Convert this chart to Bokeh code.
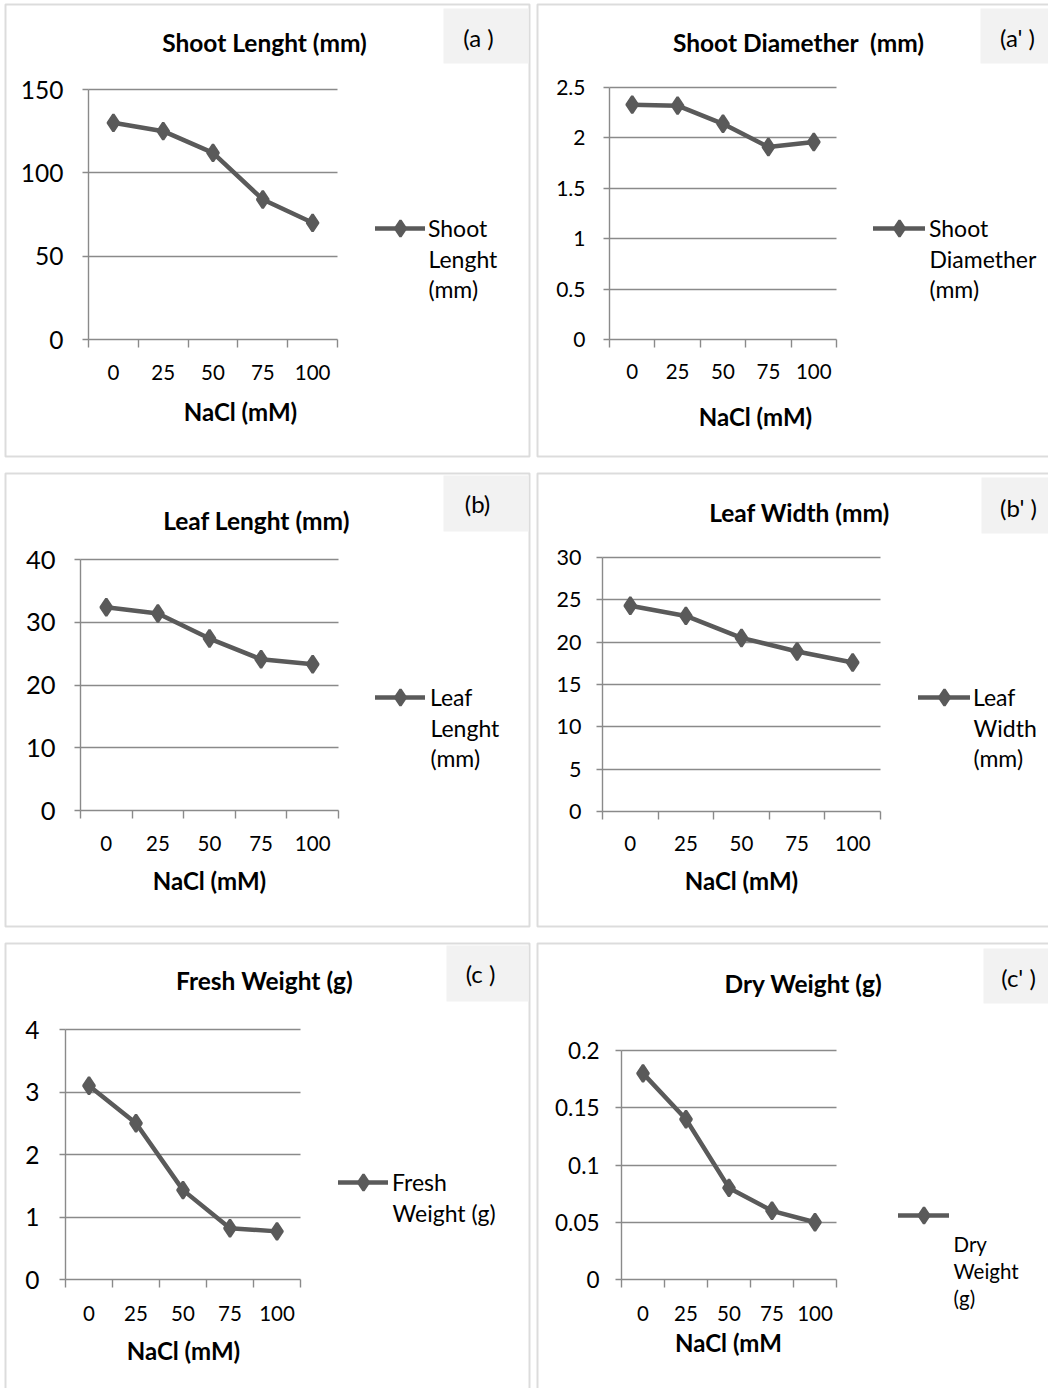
from bokeh.plotting import figure
from bokeh.models import (LinearAxis, FixedTicker, Range1d, Label, BoxAnnotation,
                          Legend, LegendItem, Grid)
from bokeh.layouts import column, row
from bokeh.embed import file_html
from bokeh.resources import INLINE

# ---------------- data ----------------
nacl_levels = ["0", "25", "50", "75", "100"]

shoot_length_mm = [130, 125, 112, 84, 70]
shoot_diameter_mm = [2.33, 2.32, 2.14, 1.91, 1.96]
leaf_length_mm = [32.4, 31.4, 27.4, 24.1, 23.3]
leaf_width_mm = [24.3, 23.1, 20.5, 18.9, 17.6]
fresh_weight_g = [3.1, 2.5, 1.43, 0.82, 0.77]
dry_weight_g = [0.18, 0.14, 0.08, 0.06, 0.05]

yticks_shoot_length = [0, 50, 100, 150]
ylabels_shoot_length = ["0", "50", "100", "150"]
yticks_shoot_diameter = [0, 0.5, 1, 1.5, 2, 2.5]
ylabels_shoot_diameter = ["0", "0.5", "1", "1.5", "2", "2.5"]
yticks_leaf_length = [0, 10, 20, 30, 40]
ylabels_leaf_length = ["0", "10", "20", "30", "40"]
yticks_leaf_width = [0, 5, 10, 15, 20, 25, 30]
ylabels_leaf_width = ["0", "5", "10", "15", "20", "25", "30"]
yticks_fresh_weight = [0, 1, 2, 3, 4]
ylabels_fresh_weight = ["0", "1", "2", "3", "4"]
yticks_dry_weight = [0, 0.05, 0.1, 0.15, 0.2]
ylabels_dry_weight = ["0", "0.05", "0.1", "0.15", "0.2"]

titles = ["Shoot Lenght (mm)", "Shoot Diamether\u00a0 (mm)", "Leaf Lenght (mm)",
          "Leaf Width (mm)", "Fresh Weight (g)", "Dry Weight (g)"]
panel_tags = ["(a )", "(a' )", "(b)", "(b' )", "(c )", "(c' )"]
legend_texts = [["Shoot", "Lenght", "(mm)"],
                ["Shoot", "Diamether", "(mm)"],
                ["Leaf", "Lenght", "(mm)"],
                ["Leaf", "Width", "(mm)"],
                ["Fresh", "Weight (g)"],
                ["", "Dry", "Weight", "(g)"]]
x_titles = ["NaCl (mM)", "NaCl (mM)", "NaCl (mM)", "NaCl (mM)", "NaCl (mM)", "NaCl (mM"]

# ---------------- layout / style (page pixel geometry) ----------------
FONT = "Lato"
LINE_C = "#5a5a5a"
GRID_C = "#8a8a8a"
BORDER_C = "#8c8c8c"
TAG_FILL = "#f2f2f2"

COL_X = [0, 533]
COL_W = [533, 515]
ROW_Y = [0, 465, 935]
ROW_H = [465, 470, 453]

layout_cfg = [
    dict(L=88, R=337, Ytop=89, Y0=339, border=(5, 4, 529, 456),
         title=(264, 42), tag_box=(443, 8, 528, 63), tag_txt=(478, 37),
         leg=(375, 425, 228), leg_x=428, leg_y=[228, 258, 288], leg_fs=23,
         xlab_c=372, xtitle=(240, 411), ylab_fs=24.5, ylab_so=19),
    dict(L=609, R=836, Ytop=87, Y0=339, border=(537, 4, 1070, 456),
         title=(798, 42), tag_box=(980, 8, 1070, 63), tag_txt=(1017, 37),
         leg=(873, 925, 228), leg_x=929, leg_y=[228, 258, 288], leg_fs=23,
         xlab_c=371, xtitle=(755, 416), ylab_fs=21, ylab_so=18),
    dict(L=80, R=338, Ytop=559, Y0=810, border=(5, 473, 529, 926),
         title=(256, 520), tag_box=(443, 475, 528, 531), tag_txt=(477, 503),
         leg=(375, 425, 697), leg_x=430, leg_y=[697, 727, 757], leg_fs=23,
         xlab_c=843, xtitle=(209, 880), ylab_fs=25.5, ylab_so=19),
    dict(L=602, R=880, Ytop=557, Y0=811, border=(537, 473, 1070, 926),
         title=(799, 512), tag_box=(981, 477, 1070, 533), tag_txt=(1018, 507),
         leg=(918, 970, 697), leg_x=973, leg_y=[697, 727, 757], leg_fs=23,
         xlab_c=843, xtitle=(741, 880), ylab_fs=21.5, ylab_so=15),
    dict(L=65, R=300, Ytop=1029, Y0=1279, border=(5, 943, 529, 1420),
         title=(264, 980), tag_box=(446, 945, 528, 1001), tag_txt=(480, 973),
         leg=(338, 388, 1182), leg_x=392, leg_y=[1182, 1212], leg_fs=23,
         xlab_c=1313, xtitle=(183, 1349), ylab_fs=24.5, ylab_so=20),
    dict(L=621, R=836, Ytop=1050, Y0=1279, border=(537, 943, 1070, 1420),
         title=(803, 983), tag_box=(983, 948, 1070, 1003), tag_txt=(1018, 977),
         leg=(898, 949, 1215), leg_x=953, leg_y=[1215, 1243, 1270, 1297], leg_fs=20.5,
         xlab_c=1313, xtitle=(728, 1341), ylab_fs=22.5, ylab_so=16),
]

series = [shoot_length_mm, shoot_diameter_mm, leaf_length_mm,
          leaf_width_mm, fresh_weight_g, dry_weight_g]
yticks_all = [yticks_shoot_length, yticks_shoot_diameter, yticks_leaf_length,
              yticks_leaf_width, yticks_fresh_weight, yticks_dry_weight]
ylabels_all = [ylabels_shoot_length, ylabels_shoot_diameter, ylabels_leaf_length,
               ylabels_leaf_width, ylabels_fresh_weight, ylabels_dry_weight]

HAS_CROSS_BOUNDS = "cross_bounds" in Grid.properties()


def build_panel(i):
    cfg = layout_cfg[i]
    ys = series[i]
    yticks = yticks_all[i]
    ylabels = ylabels_all[i]
    n = len(nacl_levels)
    ymax = yticks[-1]
    fl, W = COL_X[i % 2], COL_W[i % 2]
    ft, H = ROW_Y[i // 2], ROW_H[i // 2]
    u = (cfg["R"] - cfg["L"]) / n
    v = (cfg["Y0"] - cfg["Ytop"]) / ymax

    def dx(px):
        return 0.5 + (px - cfg["L"]) / u

    def dy(py):
        return (cfg["Y0"] - py) / v

    p = figure(width=W, height=H,
               x_range=Range1d(dx(fl), dx(fl + W)),
               y_range=Range1d(dy(ft + H), dy(ft)),
               x_axis_type=None, y_axis_type=None,
               toolbar_location=None, output_backend="svg",
               title_location=None, min_border=0)
    p.background_fill_color = "white"
    p.border_fill_color = "white"
    p.outline_line_color = None

    # panel frame
    b0, b1, b2, b3 = cfg["border"]
    p.add_layout(BoxAnnotation(left=dx(b0), right=dx(b2), top=dy(b1), bottom=dy(b3),
                               fill_alpha=0, line_color=BORDER_C, line_width=2,
                               level="underlay"))

    xs = [k + 1 for k in range(n)]
    bounds_x = (0.5, n + 0.5)

    # horizontal gridlines limited to the plot area
    if HAS_CROSS_BOUNDS:
        grid = Grid(dimension=1, ticker=FixedTicker(ticks=yticks[1:]), cross_bounds=bounds_x,
                    grid_line_color=GRID_C, grid_line_width=1.4)
        p.add_layout(grid)
    else:
        gy = yticks[1:]
        p.segment(x0=[bounds_x[0]] * len(gy), x1=[bounds_x[1]] * len(gy), y0=gy, y1=gy,
                  line_color=GRID_C, line_width=1.4, level="underlay")

    yax = LinearAxis(ticker=FixedTicker(ticks=yticks), fixed_location=0.5,
                     bounds=(0, ymax),
                     major_label_overrides={t: l for t, l in zip(yticks, ylabels)},
                     axis_line_color=GRID_C, axis_line_width=1.4,
                     major_tick_line_color=GRID_C, major_tick_line_width=1.4,
                     major_tick_out=6, major_tick_in=0,
                     minor_tick_line_color=None,
                     major_label_standoff=cfg["ylab_so"],
                     major_label_text_font=FONT,
                     major_label_text_font_size=f"{cfg['ylab_fs']}px",
                     major_label_text_color="black")
    p.add_layout(yax, "left")

    xax_ticks = LinearAxis(ticker=FixedTicker(ticks=[k + 0.5 for k in range(n + 1)]),
                           fixed_location=0, bounds=bounds_x,
                           axis_line_color=GRID_C, axis_line_width=1.4,
                           major_tick_line_color=GRID_C, major_tick_line_width=1.4,
                           major_tick_out=8, major_tick_in=0,
                           minor_tick_line_color=None,
                           major_label_text_color=None)
    p.add_layout(xax_ticks, "below")

    tick_old = round(cfg["xlab_c"] - cfg["Y0"] - 8 - 12)
    tick_std = tick_old + 4
    title_std = round(cfg["xtitle"][1] - 12.5 - (cfg["Y0"] + 8 + tick_old + 24))
    cx = dx(cfg["xtitle"][0])
    half = cx - 0.5
    xax_lab = LinearAxis(ticker=FixedTicker(ticks=xs), fixed_location=0,
                         bounds=(0.5, 0.5 + 2 * half),
                         major_label_overrides={x: l for x, l in zip(xs, nacl_levels)},
                         axis_line_color=None, major_tick_line_color=None,
                         minor_tick_line_color=None,
                         major_tick_out=8, major_tick_in=0,
                         major_label_standoff=tick_std,
                         major_label_text_font=FONT, major_label_text_font_size="20.5px",
                         major_label_text_color="black",
                         axis_label=x_titles[i], axis_label_standoff=title_std,
                         axis_label_text_font=FONT, axis_label_text_font_size="24px",
                         axis_label_text_font_style="bold", axis_label_text_color="black")
    p.add_layout(xax_lab, "below")

    ln = p.line(xs, ys, line_color=LINE_C, line_width=4.5, line_join="round", line_cap="round")
    pts = p.scatter(xs, ys, marker="diamond", size=17, fill_color=LINE_C,
                    line_color=LINE_C, line_width=2.5)

    bx0, by0, bx1, by1 = cfg["tag_box"]
    p.add_layout(BoxAnnotation(left=dx(bx0), right=dx(bx1), top=dy(by0), bottom=dy(by1),
                               fill_color=TAG_FILL, fill_alpha=1, line_color=None,
                               level="underlay"))
    p.add_layout(Label(x=dx(cfg["tag_txt"][0]), y=dy(cfg["tag_txt"][1]), text=panel_tags[i],
                       text_align="center", text_baseline="middle", text_font=FONT,
                       text_font_size="24px", text_color="black"))

    p.add_layout(Label(x=dx(cfg["title"][0]), y=dy(cfg["title"][1]), text=titles[i],
                       text_align="center", text_baseline="middle", text_font=FONT,
                       text_font_style="bold", text_font_size="24.5px", text_color="black"))

    lx0, lx1, lyc = cfg["leg"]
    gh = 40
    lines = legend_texts[i]
    leg = Legend(items=[LegendItem(label=lines[0], renderers=[ln, pts])],
                 location=(lx0 - fl, H - (lyc - ft) - gh / 2),
                 margin=0, padding=0, spacing=0,
                 glyph_width=lx1 - lx0, glyph_height=gh, label_height=gh,
                 label_standoff=cfg["leg_x"] - lx1,
                 border_line_color=None, background_fill_alpha=0,
                 label_text_font=FONT, label_text_font_size=f"{cfg['leg_fs']}px",
                 label_text_color="black")
    p.add_layout(leg)
    for txt, yy in zip(lines[1:], cfg["leg_y"][1:]):
        p.add_layout(Label(x=dx(cfg["leg_x"]), y=dy(yy), text=txt,
                           text_align="left", text_baseline="middle", text_font=FONT,
                           text_font_size=f"{cfg['leg_fs']}px", text_color="black"))
    return p


panels = [build_panel(i) for i in range(6)]

page = column(row(panels[0], panels[1], spacing=0),
              row(panels[2], panels[3], spacing=0),
              row(panels[4], panels[5], spacing=0),
              spacing=0)

open("out.html", "w").write(file_html(page, INLINE))
